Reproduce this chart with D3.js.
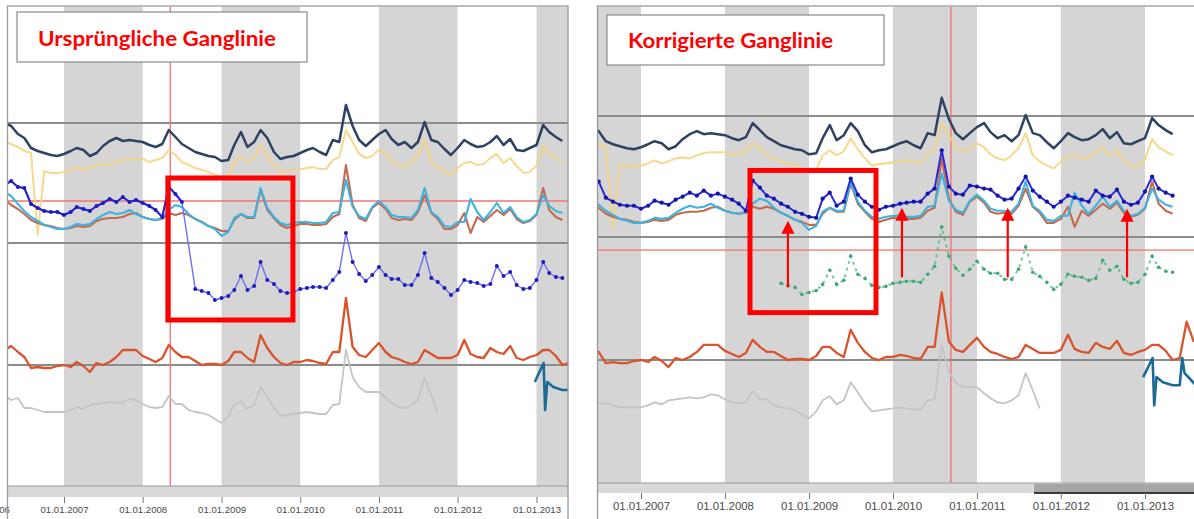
<!DOCTYPE html>
<html>
<head>
<meta charset="utf-8">
<script src="https://cdn.jsdelivr.net/npm/d3@7"></script>
<style>
  body { margin: 0; background: #fff; }
  svg { display: block; }
</style>
</head>
<body>
<div id="chart"></div>
<script>
// monthly readings, first month = April 2006 (relative level units)
var firstMonth = new Date(2006, 3, 1);

var navy = [242,239,231,227,217,214,212,210,209,211,
  214,217,215,209,212,219,224,227,224,225,
  224,223,220,218,221,235,228,221,217,213,
  211,209,208,204,205,220,233,218,223,235,
  227,213,206,208,209,212,215,217,213,210,
  225,223,260,239,225,219,225,231,235,226,
  220,223,217,223,243,225,223,216,210,217,
  225,221,218,219,223,229,220,226,215,214,
  217,220,240,233,228,224];

var yellow = [223,221,218,214,212,130,194,192,192,193,
  195,198,195,197,200,201,200,203,205,206,
  206,206,203,205,207,215,210,203,200,197,
  195,193,190,188,189,203,208,203,207,220,
  209,200,193,194,195,196,197,198,196,196,
  205,208,235,223,211,207,209,215,211,204,
  200,198,203,210,225,203,197,193,190,197,
  202,203,200,201,207,211,202,207,199,192,
  193,199,219,211,207,203];

var blueCorrected = [180,184,178,177,161,157,154,153,153,150,
  153,158,156,154,159,162,166,163,168,163,
  165,162,159,155,148,178,171,163,160,155,
  152,147,145,142,141,160,166,153,157,180,
  164,157,152,149,152,153,155,156,157,157,
  165,170,208,172,165,164,173,172,170,169,
  163,159,160,170,182,168,162,157,152,157,
  163,161,159,157,168,163,162,169,157,154,
  156,167,182,170,166,163];

// original (faulty) readings, starting September 2008 (month index 29)
var blueOriginalFrom = 29;
var blueOriginal = [76,74,72,65,67,69,75,89,75,79,103,
  85,81,74,72,73,76,77,78,78,77,
  85,93,132,103,91,84,90,98,90,86,
  86,80,80,90,112,87,83,77,70,75,
  85,83,82,79,81,99,89,93,80,76,
  77,85,103,92,88,87];
var lastUpperMonth = 27;

var cyan = [173,169,161,154,148,144,140,138,136,136,
  138,141,140,141,146,150,153,151,152,155,
  151,148,146,145,147,155,160,158,151,146,
  143,139,136,129,133,147,151,148,148,177,
  157,148,142,140,142,143,143,142,142,143,
  152,153,185,158,149,146,158,164,158,150,
  148,148,147,155,177,153,148,139,138,143,
  143,166,153,145,153,162,152,158,148,143,
  145,151,170,159,154,152];

var brown = [165,160,156,151,145,142,140,139,137,136,
  137,139,138,139,144,146,147,147,148,151,
  152,148,146,145,146,152,150,152,150,146,
  143,139,137,134,134,145,151,147,147,175,
  155,147,140,137,139,141,141,140,140,141,
  148,151,200,160,147,144,157,162,156,147,
  145,146,145,153,170,152,146,136,136,140,
  152,132,148,143,149,155,150,156,146,142,
  144,150,177,155,148,145];

var orange = [15,19,13,8,-3,-2,-3,-3,-1,0,
  -2,3,-1,-7,2,0,3,8,15,15,
  15,9,6,3,7,20,13,8,8,4,
  0,1,1,0,4,13,13,7,3,30,
  17,8,2,0,3,3,5,4,2,1,
  13,13,67,18,10,8,15,22,13,8,
  6,3,1,3,15,11,7,7,7,10,
  25,11,8,7,17,13,11,19,7,5,
  8,10,15,15,9,0,2,38,18];

var grey = [-31,-35,-33,-43,-43,-45,-47,-47,-47,-47,
  -45,-42,-44,-40,-39,-38,-37,-38,-37,-34,
  -35,-39,-42,-43,-42,-31,-39,-39,-45,-47,
  -48,-50,-54,-58,-51,-40,-36,-44,-40,-22,
  -32,-43,-51,-50,-49,-48,-47,-48,-49,-49,
  -40,-39,15,-12,-22,-27,-27,-27,-33,-38,
  -42,-43,-40,-35,-13,-30,-48];

var tealDates = ["2012-12-24","2013-02-03","2013-02-10","2013-02-20","2013-03-20",
  "2013-05-01","2013-06-01","2013-06-12","2013-06-22","2013-08-10"];
var tealValues = [-17,2,-45,-17,-22,-25,-25,2,-13,-25];

var refLevels = [0, 122, 242];
var leftTickYears = [2006,2007,2008,2009,2010,2011,2012,2013];
var rightTickYears = [2007,2008,2009,2010,2011,2012,2013];

// annotations per panel
var leftShaded = [2007, 2009, 2011, 2013];
var rightShaded = [2006, 2008, 2010, 2012];
var leftCursor = ["2008-05-08", 164];
var rightCursor = ["2010-09-10", 109];
var leftBox = ["2008-04-27", "2009-11-28", 187, 45];
var rightBox = ["2008-04-19", "2009-10-19", 188, 47];
var arrowDates = ["2008-10-01", "2010-02-09", "2011-05-15", "2012-10-15"];
var arrowFrom = [72, 82, 82, 82];
var arrowTo = [138, 151, 151, 150];

var parse = d3.timeParse("%Y-%m-%d");
var month = i => d3.timeMonth.offset(firstMonth, i);
var pairs = arr => arr.map((v, i) => [month(i), v]);

var svg = d3.select("#chart").append("svg")
  .attr("width", 1194)
  .attr("height", 519);

svg.append("rect").attr("width", 1194).attr("height", 519).attr("fill", "#fff");
var defs = svg.append("defs");

function drawPanel(p) {
  var x = d3.scaleTime()
    .domain([new Date(2007, 0, 1), new Date(2013, 0, 1)])
    .range(p.xRange);
  var y = d3.scaleLinear().domain([0, 242]).range(p.yRange);

  defs.append("clipPath").attr("id", "plot-" + p.id)
    .append("rect")
    .attr("x", p.left).attr("y", p.top)
    .attr("width", p.right - p.left).attr("height", p.bottom - p.top);

  var g = svg.append("g");
  var plot = g.append("g").attr("clip-path", "url(#plot-" + p.id + ")");

  // year bands
  plot.selectAll(".band")
    .data(p.shaded)
    .enter()
    .append("rect")
    .attr("x", d => x(new Date(d, 0, 1)))
    .attr("width", d => x(new Date(d + 1, 0, 1)) - x(new Date(d, 0, 1)))
    .attr("y", p.top)
    .attr("height", p.bottom - p.top)
    .attr("fill", "#d5d5d5");

  // grey reference lines
  plot.selectAll(".ref")
    .data(refLevels)
    .enter()
    .append("line")
    .attr("x1", p.left).attr("x2", p.right)
    .attr("y1", d => y(d)).attr("y2", d => y(d))
    .attr("stroke", "#8c8c8c")
    .attr("stroke-width", 2);

  // red cursor lines
  plot.append("line")
    .attr("x1", p.left).attr("x2", p.right)
    .attr("y1", y(p.cursor[1])).attr("y2", y(p.cursor[1]))
    .attr("stroke", "#f07070").attr("stroke-width", 1.3);
  plot.append("line")
    .attr("x1", x(parse(p.cursor[0]))).attr("x2", x(parse(p.cursor[0])))
    .attr("y1", p.top).attr("y2", p.bottom)
    .attr("stroke", "#f07070").attr("stroke-width", 1.3);

  var line = d3.line()
    .defined(d => d[1] != null)
    .x(d => x(d[0]))
    .y(d => y(d[1]));

  function series(data, color, width, opacity) {
    plot.append("path")
      .datum(data)
      .attr("d", line)
      .attr("fill", "none")
      .attr("stroke", color)
      .attr("stroke-width", width)
      .attr("stroke-opacity", opacity || 1)
      .attr("stroke-linejoin", "round");
  }
  function dots(data, color, r) {
    plot.append("g").selectAll("circle")
      .data(data.filter(d => d[1] != null))
      .enter()
      .append("circle")
      .attr("cx", d => x(d[0]))
      .attr("cy", d => y(d[1]))
      .attr("r", r)
      .attr("fill", color);
  }

  series(pairs(grey), "#c4c4c4", 1.8);
  series(pairs(orange), "#d9532c", 2.3);
  series(tealDates.map((d, i) => [parse(d), tealValues[i]]), "#1c6a96", 2.6);
  series(pairs(yellow), "#f4d37e", 2.1, 0.85);
  series(pairs(navy), "#2f4262", 2.5);
  series(pairs(brown), "#c26b50", 2.1);
  series(pairs(cyan), "#3db3e2", 2.1);

  var original = blueOriginal.map((v, i) => [month(i + blueOriginalFrom), v]);

  if (p.id === "left") {
    var upper = pairs(blueCorrected.slice(0, lastUpperMonth + 1));
    var combined = upper.concat(original);
    series(combined, "#6f6ff2", 1.4);
    series(upper, "#2323d4", 2.1);
    dots(combined, "#1c1cb8", 2);
  } else {
    plot.append("path")
      .datum(original)
      .attr("d", line)
      .attr("fill", "none")
      .attr("stroke", "#52b985")
      .attr("stroke-width", 2)
      .attr("stroke-dasharray", "3,4")
      .attr("stroke-opacity", 0.8);
    dots(original, "#3fa872", 1.8);
    series(pairs(blueCorrected), "#2a2ad8", 2);
    dots(pairs(blueCorrected), "#1414a8", 2.1);
  }

  // red box
  var bx0 = x(parse(p.box[0])), bx1 = x(parse(p.box[1]));
  g.append("rect")
    .attr("x", bx0).attr("y", y(p.box[2]))
    .attr("width", bx1 - bx0).attr("height", y(p.box[3]) - y(p.box[2]))
    .attr("fill", "none")
    .attr("stroke", "#ff0000")
    .attr("stroke-width", 5);

  // correction arrows
  if (p.arrows) {
    arrowDates.forEach(function(d, i) {
      var ax = x(parse(d));
      var tip = y(arrowTo[i]);
      g.append("line")
        .attr("x1", ax).attr("x2", ax)
        .attr("y1", y(arrowFrom[i])).attr("y2", tip + 10)
        .attr("stroke", "#ff0000").attr("stroke-width", 2.2);
      g.append("path")
        .attr("d", `M${ax},${tip} L${ax - 6.5},${tip + 13} L${ax + 6.5},${tip + 13} Z`)
        .attr("fill", "#ff0000");
    });
  }

  // scrollbar
  g.append("rect")
    .attr("x", p.left).attr("y", p.bottom)
    .attr("width", p.right - p.left).attr("height", p.barH)
    .attr("fill", "#d9d9d9");
  g.append("line")
    .attr("x1", p.left).attr("x2", p.right)
    .attr("y1", p.bottom).attr("y2", p.bottom)
    .attr("stroke", "#9a9a9a").attr("stroke-width", 1.2);
  if (p.thumb) {
    g.append("rect")
      .attr("x", p.thumb).attr("y", p.bottom + 1)
      .attr("width", p.right - p.thumb).attr("height", p.barH - 1)
      .attr("fill", "#a6a6a6");
    g.append("line")
      .attr("x1", p.thumb).attr("x2", p.right)
      .attr("y1", p.bottom + p.barH).attr("y2", p.bottom + p.barH)
      .attr("stroke", "#3a3a3a").attr("stroke-width", 2);
  }

  // date axis
  var axis = d3.axisBottom(x)
    .tickValues(p.ticks.map(yr => new Date(yr, 0, 1)))
    .tickFormat(d3.timeFormat("%d.%m.%Y"))
    .tickSize(6)
    .tickPadding(3);
  var axG = g.append("g")
    .attr("transform", `translate(0,${p.bottom + p.barH})`)
    .call(axis);
  axG.select(".domain").remove();
  axG.selectAll("line").attr("stroke", "#777");
  axG.selectAll("text")
    .attr("font-family", "'Liberation Sans', Arial, sans-serif")
    .attr("font-size", p.tickFont)
    .attr("fill", "#4a4a4a");

  // frame
  g.append("rect")
    .attr("x", p.left).attr("y", p.top - 0.5)
    .attr("width", p.right - p.left).attr("height", 560)
    .attr("fill", "none")
    .attr("stroke", "#9a9a9a")
    .attr("stroke-width", 1.3);

  // title box
  g.append("rect")
    .attr("x", p.title.x).attr("y", p.title.y)
    .attr("width", p.title.w).attr("height", p.title.h)
    .attr("fill", "#fff")
    .attr("stroke", "#8a8a8a")
    .attr("stroke-width", 1.2);
  g.append("text")
    .attr("x", p.title.tx).attr("y", p.title.ty)
    .attr("font-family", "Lato, 'Open Sans', sans-serif")
    .attr("font-weight", "bold")
    .attr("font-size", 21)
    .attr("fill", "#ff0000")
    .attr("textLength", p.title.tl)
    .attr("lengthAdjust", "spacingAndGlyphs")
    .text(p.title.text);
}

drawPanel({
  id: "left",
  left: 7.5, right: 568, top: 6.5, bottom: 486, barH: 11,
  xRange: [64, 536.5], yRange: [365, 123],
  shaded: leftShaded, cursor: leftCursor, box: leftBox, arrows: false,
  ticks: leftTickYears, tickFont: 9.6, thumb: null,
  title: { x: 17, y: 12, w: 290, h: 50, tx: 38, ty: 46, tl: 238, text: "Ursprüngliche Ganglinie" }
});

drawPanel({
  id: "right",
  left: 597.5, right: 1230, top: 6.5, bottom: 483, barH: 10,
  xRange: [641, 1145], yRange: [360, 116],
  shaded: rightShaded, cursor: rightCursor, box: rightBox, arrows: true,
  ticks: rightTickYears, tickFont: 11.4, thumb: 1034,
  title: { x: 607, y: 15, w: 277, h: 50, tx: 628, ty: 48, tl: 205, text: "Korrigierte Ganglinie" }
});
</script>
</body>
</html>
